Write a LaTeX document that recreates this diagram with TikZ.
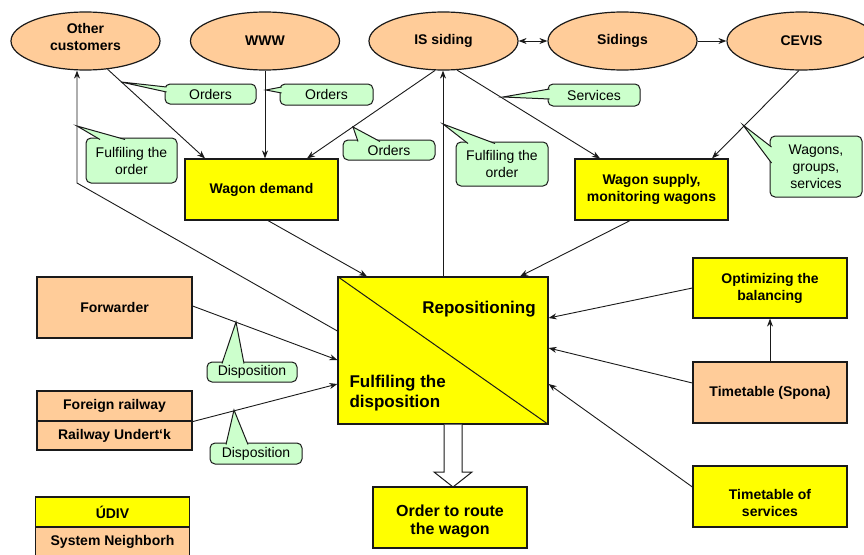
\documentclass[tikz,border=0pt]{standalone}
\usepackage{fontspec}
\setmainfont{Liberation Sans}
\usetikzlibrary{shapes.geometric,arrows.meta}
\definecolor{peach}{HTML}{FFCC99}
\definecolor{yel}{HTML}{FFFF00}
\definecolor{mint}{HTML}{CCFFCC}
\definecolor{edge}{HTML}{1A1A1A}
\newcommand{\ptr}[3]{\fill[mint] #1 -- #2 -- #3 -- cycle; \draw[line width=1pt,draw=edge] #2 -- #1 -- #3;}
\begin{document}
\begin{tikzpicture}[x=1pt,y=-1pt, line width=1pt,
 ell/.style={ellipse, draw=edge, line width=1.2pt, fill=peach, minimum width=149pt, minimum height=58pt, inner sep=0pt, font=\bfseries\fontsize{14}{17}\selectfont, align=center},
 box/.style={rectangle, draw=edge, line width=1.2pt, inner sep=0pt, font=\bfseries\fontsize{14}{17}\selectfont, align=center},
 lbl/.style={inner sep=0pt, font=\bfseries\fontsize{14}{17}\selectfont, align=center},
 co/.style={rectangle, rounded corners=5pt, draw=edge, line width=1pt, fill=mint, inner sep=0pt, font=\fontsize{14}{17}\selectfont, align=center},
 arr/.style={draw=edge, line width=0.9pt, -{Stealth[length=8pt,width=6pt]}},
 darr/.style={draw=edge, line width=0.9pt, {Stealth[length=8pt,width=6pt]}-{Stealth[length=8pt,width=6pt]}},
 con/.style={draw=edge, line width=1pt},
]
\useasboundingbox (0,0) rectangle (864,554);
\clip (0,0) rectangle (864,554);
\fill[white] (0,0) rectangle (864,554);

% ellipses
\node[ell] (oc) at (85.5,41) {};
\node[lbl] (oclbl) at (85.5,37) {Other\\customers};
\node[ell] (www) at (265,41) {WWW};
\node[ell] (is) at (443.5,41) {IS siding};
\node[ell] (sid) at (622.5,41) {Sidings};
\node[ell] (cevis) at (801.5,41) {CEVIS};

% boxes
\node[box, fill=yel, minimum width=153pt, minimum height=61pt] (wd) at (261.5,189.5) {Wagon demand};
\node[box, fill=yel, minimum width=153pt, minimum height=61pt] (ws) at (651.5,189.5) {Wagon supply,\\monitoring wagons};
\node[box, fill=yel, minimum width=210pt, minimum height=147pt] (cen) at (443,350.5) {};
\draw[con] (cen.north west) -- (cen.south east);
\node[font=\bfseries\fontsize{17}{20}\selectfont, inner sep=0pt] (rep) at (479,309) {Repositioning};
\node[font=\bfseries\fontsize{17}{20}\selectfont, align=left, anchor=west, inner sep=0pt] (ful) at (349,393) {Fulfiling the\\disposition};

\node[box, fill=yel, minimum width=154pt, minimum height=61pt] (otr) at (450,517.5) {};
\node[lbl, font=\bfseries\fontsize{16}{18}\selectfont] (otrlbl) at (450,521) {Order to route\\the wagon};

\node[box, fill=peach, minimum width=155pt, minimum height=61pt] (fw) at (114.5,307.5) {Forwarder};
\node[box, fill=peach, minimum width=155pt, minimum height=30pt] (fr) at (114.5,406) {Foreign railway};
\node[box, fill=peach, minimum width=155pt, minimum height=29pt] (ru) at (114.5,435.5) {Railway Undert‘k};
\node[box, fill=yel, minimum width=154pt, minimum height=30pt] (udiv) at (112.5,512) {ÚDIV};
\node[box, fill=peach, minimum width=154pt, minimum height=30pt] (sn) at (112.5,542) {System Neighborh};

\node[box, fill=yel, minimum width=154pt, minimum height=60pt] (opt) at (770,288) {Optimizing the\\balancing};
\node[box, fill=peach, minimum width=154pt, minimum height=61pt] (spona) at (770,392.5) {Timetable (Spona)};
\node[box, fill=yel, minimum width=154pt, minimum height=61pt] (tos) at (770,496.5) {};
\node[lbl] (toslbl) at (770,503) {Timetable of\\services};

% hollow arrow
\draw[draw=edge, line width=1pt, fill=white] (444,424.5) -- (444,472) -- (434,472) -- (453,487) -- (472,472) -- (462,472) -- (462,424.5);

% connectors
\draw[arr] (oc.-52) -- ([xshift=-56.5pt]wd.north);
\draw[arr] (www.south) -- (www.south |- wd.north);
\draw[arr] (is.-106) -- ([xshift=45.5pt]wd.north);
\draw[arr] (is.-65) -- ([xshift=-51.5pt]ws.north);
\draw[arr] (cevis.-95) -- ([xshift=60.5pt]ws.north);
\draw[darr] (is.east) -- (sid.west);
\draw[arr] (sid.east) -- (cevis.west);
\draw[arr] ([xshift=6.5pt]wd.south) -- ([xshift=-76pt]cen.north);
\draw[arr] ([xshift=-21.5pt]ws.south) -- ([xshift=77pt]cen.north);
\draw[arr] (cen.north) -- (cen.north |- is.south);
\coordinate (bend) at (77,183);
\draw[arr] ([yshift=19.5pt]cen.west) -- (bend) -- (bend |- oc.south);
\draw[arr] ([yshift=1.5pt]fw.east) -- ([yshift=-9.5pt]cen.west);
\draw[arr] (fr.south east) -- ([yshift=-33.5pt]cen.west);
\draw[arr] (opt.west) -- ([yshift=32.5pt]cen.east);
\draw[arr] ([yshift=9.5pt]spona.west) -- ([yshift=2.5pt]cen.east);
\draw[arr] ([yshift=9.5pt]tos.west) -- ([yshift=-33.5pt]cen.east);
\draw[arr] (spona.north) -- (opt.south);

% callouts
\node[co, minimum width=91pt, minimum height=20pt] (c1) at (210.5,94) {Orders};
\coordinate (t1) at (121,82);
\ptr{(t1)}{(166.5,87)}{(166.5,92)}
\node[co, minimum width=93pt, minimum height=21pt] (c2) at (326.5,94.5) {Orders};
\coordinate (t2) at (266,90);
\ptr{(t2)}{(281.5,87)}{(281.5,93)}
\node[co, minimum width=92pt, minimum height=22pt] (c3) at (594,95) {Services};
\coordinate (t3) at (503,97);
\ptr{(t3)}{(549.5,89)}{(549.5,99)}
\node[co, minimum width=92pt, minimum height=20pt] (c4) at (389,150) {Orders};
\coordinate (t4) at (353,127);
\ptr{(t4)}{(358,141.5)}{(380,141.5)}
\node[co, minimum width=92pt, minimum height=44pt] (c5) at (502,164) {Fulfiling the\\order};
\coordinate (t5) at (443,124);
\ptr{(t5)}{(468,143.5)}{(495,143.5)}
\node[co, minimum width=91pt, minimum height=45pt] (c6) at (131.5,160.5) {Fulfiling the\\order};
\coordinate (t6) at (77,126);
\ptr{(t6)}{(100,139.5)}{(125,139.5)}
\node[co, minimum width=92pt, minimum height=61pt] (c7) at (816,166.5) {Wagons,\\groups,\\services};
\coordinate (t7) at (743,125);
\ptr{(t7)}{(771.5,147)}{(771.5,163)}
\node[co, minimum width=90pt, minimum height=20pt] (c8) at (252,372) {Disposition};
\coordinate (t8) at (236,322);
\ptr{(t8)}{(222,363.5)}{(244,363.5)}
\node[co, minimum width=92pt, minimum height=21pt] (c9) at (256,453.5) {Disposition};
\coordinate (t9) at (234,410);
\ptr{(t9)}{(226,444.5)}{(248,444.5)}
\end{tikzpicture}
\end{document}
